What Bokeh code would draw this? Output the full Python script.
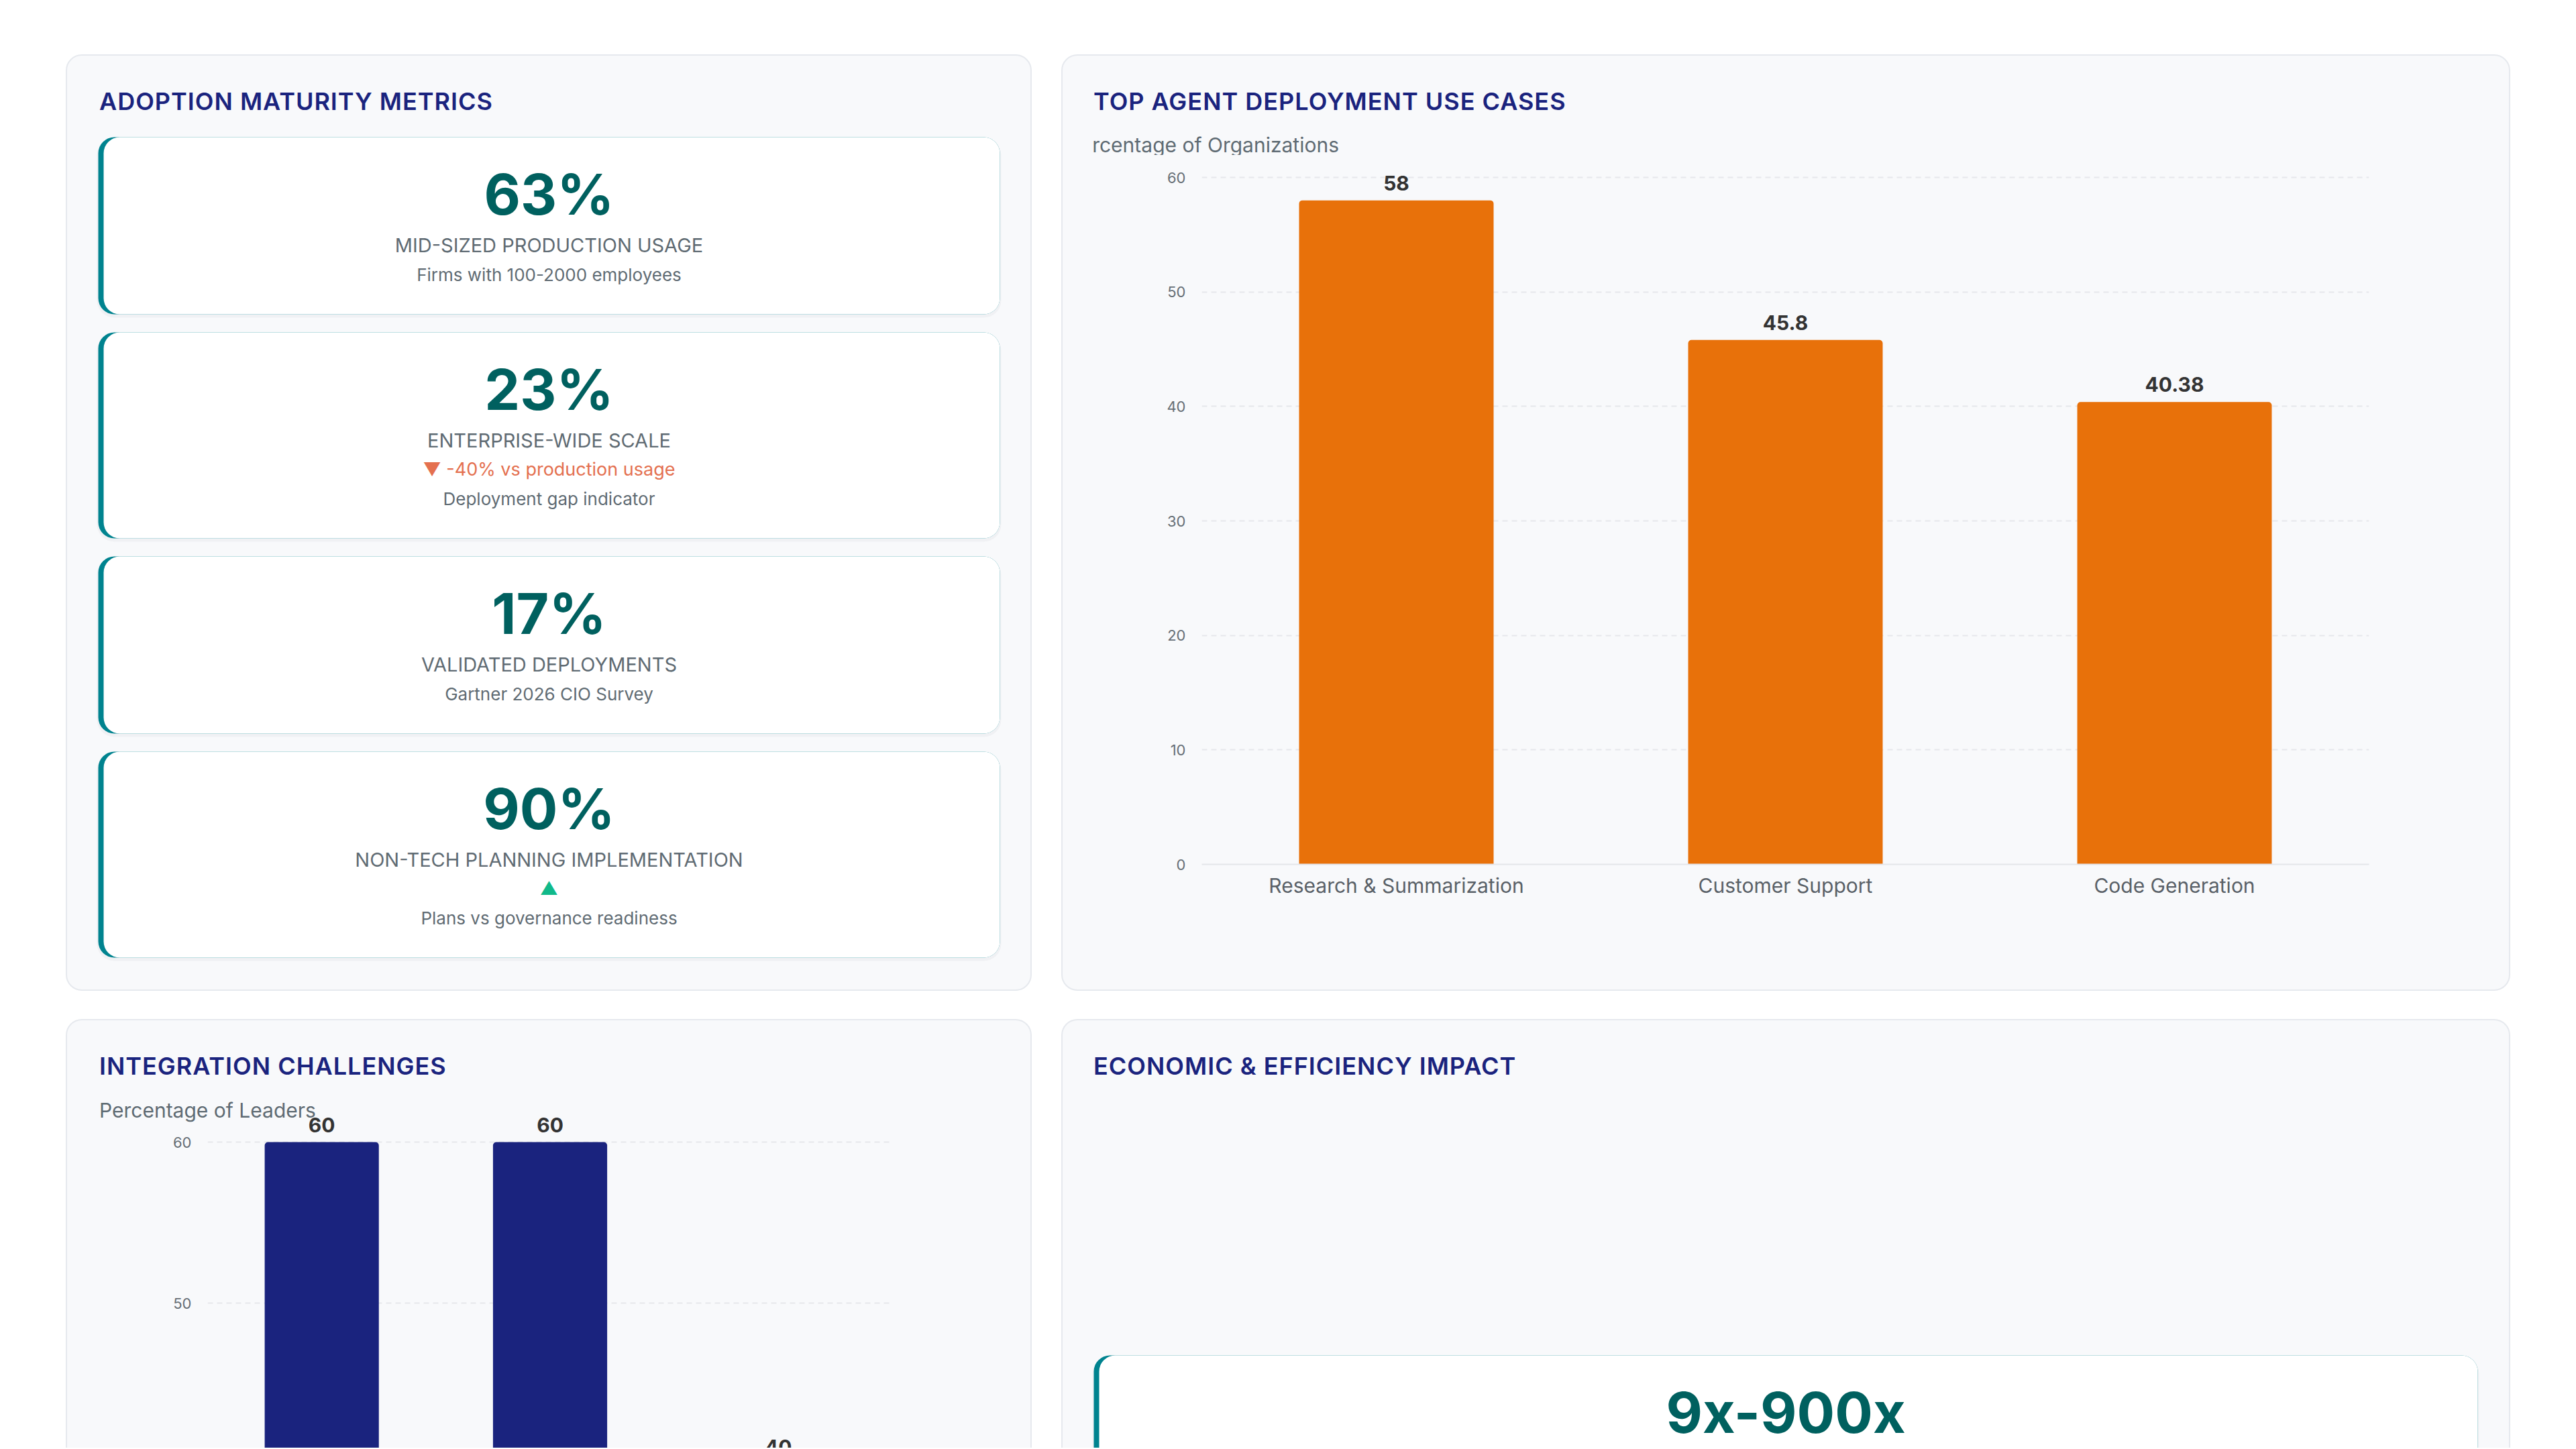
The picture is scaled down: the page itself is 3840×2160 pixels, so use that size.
from html import escape

from bokeh.core.properties import value
from bokeh.embed import file_html
from bokeh.layouts import column, row
from bokeh.models import ColumnDataSource, Div, Range1d, SingleIntervalTicker, Spacer
from bokeh.plotting import figure
from bokeh.resources import INLINE

# values
kpi_values = ["63%", "23%", "17%", "90%"]
kpi_labels = ["MID-SIZED PRODUCTION USAGE", "ENTERPRISE-WIDE SCALE",
              "VALIDATED DEPLOYMENTS", "NON-TECH PLANNING IMPLEMENTATION"]
kpi_trends = ["", "\u25bc -40% vs production usage", "", "\u25b2"]
kpi_trend_dir = ["", "down", "", "up"]
kpi_notes = ["Firms with 100-2000 employees", "Deployment gap indicator",
             "Gartner 2026 CIO Survey", "Plans vs governance readiness"]

use_cases = ["Research & Summarization", "Customer Support", "Code Generation"]
use_case_pct = [58, 45.8, 40.38]

# only the tops of these bars are on screen, the names are not
challenges = ["Legacy Integration", "Data Access", "Governance"]
challenge_pct = [60, 60, 40]

impact_values = ["9x-900x"]

FONT = value("Inter")
BG = "#f8f9fb"
EDGE = "#e6e9ee"
NAVY = "#1a237e"
TEAL = "#00838f"
TEAL_DARK = "#00605f"
GREY = "#5f6b73"
ORANGE = "#e8710a"
COLORS = {"down": "#e4704f", "up": "#10b98a", "": GREY}

PANEL_CSS = {"background-color": BG, "border": "2px solid " + EDGE, "border-radius": "24px"}
OPEN_CSS = dict(PANEL_CSS, **{"border-bottom": "none", "border-radius": "24px 24px 0 0"})

CARD_H, CARD_H_TREND, CARD_GAP = 264, 307, 27
TOP_H, BOTTOM_H = 1392, 637
HEAD = 100


def header(w, h, x, title, sub=None, sub_y=0, sub_right=None):
    html = ['<div style="position:relative;width:%dpx;height:%dpx;font-family:Inter,sans-serif">' % (w, h),
            '<div style="position:absolute;left:%dpx;top:50px;font-size:36px;line-height:1;'
            'font-weight:600;letter-spacing:1px;color:%s;white-space:nowrap">%s</div>'
            % (x, NAVY, escape(title))]
    if sub:
        width = (sub_right - x) if sub_right else w - x
        justify = "flex-end" if sub_right else "flex-start"
        clip = "hidden" if sub_right else "visible"
        html.append('<div style="position:absolute;left:%dpx;top:%dpx;width:%dpx;display:flex;'
                    'justify-content:%s;overflow:%s;font-size:30px;line-height:1;color:%s;'
                    'white-space:nowrap">%s</div>'
                    % (x, sub_y - 15, width, justify, clip, GREY, escape(sub)))
    html.append("</div>")
    return Div(text="".join(html), width=w, height=h, margin=0,
               styles={"overflow": "visible", "z-index": "1"})


def canvas(w, h):
    p = figure(width=w, height=h, x_range=Range1d(0, w), y_range=Range1d(h, 0),
               x_axis_type=None, y_axis_type=None, toolbar_location=None,
               output_backend="svg", min_border=0)
    p.outline_line_color = None
    p.background_fill_alpha = 0
    p.border_fill_alpha = 0
    return p


def cards(p, left, right, tops, bottoms):
    n = len(tops)
    p.quad(left=[left - 2] * n, right=[right + 2] * n, top=[t + 1 for t in tops],
           bottom=[b + 5 for b in bottoms], fill_color="#1f2937", fill_alpha=0.035,
           line_color=None, border_radius=26)
    p.quad(left=[left] * n, right=[right] * n, top=tops, bottom=bottoms,
           fill_color=TEAL, line_color=None, border_radius=24)
    p.quad(left=[left + 8] * n, right=[right] * n, top=tops, bottom=bottoms,
           fill_color="white", line_color=None, border_radius=24)


def card_text(p, xs, ys, texts, size, color, style="normal"):
    p.text(x=xs, y=ys, text=texts, text_font=FONT, text_font_size=size,
           text_font_style=style, text_color=color, text_align="center",
           text_baseline="middle")


def style_chart(c):
    c.outline_line_color = None
    c.background_fill_alpha = 0
    c.border_fill_alpha = 0
    c.yaxis.ticker = SingleIntervalTicker(interval=10, num_minor_ticks=0)
    c.yaxis.axis_line_color = None
    c.yaxis.major_tick_line_color = None
    c.yaxis.minor_tick_line_color = None
    c.yaxis.major_label_standoff = 18
    c.yaxis.major_label_text_font = "Inter"
    c.yaxis.major_label_text_font_size = "22px"
    c.yaxis.major_label_text_color = "#666e75"
    c.xgrid.grid_line_color = None
    c.ygrid.grid_line_color = "#e6e8ec"
    c.ygrid.grid_line_width = 2
    c.ygrid.grid_line_dash = "8 6"


def bar_labels(c, src):
    c.text(x="x", y="top", text="label", source=src, y_offset=-26, text_align="center",
           text_baseline="middle", text_font=FONT, text_font_size="30px",
           text_font_style="bold", text_color="#333333")


# ---------- adoption maturity metrics ----------
h1 = header(1436, HEAD, 48, "ADOPTION MATURITY METRICS")
p1 = canvas(1436, TOP_H - HEAD)

tops, y = [], 121 - HEAD
for t in kpi_trends:
    tops.append(y)
    y += (CARD_H_TREND if t else CARD_H) + CARD_GAP
bottoms = [t + (CARD_H_TREND if tr else CARD_H) for t, tr in zip(tops, kpi_trends)]
cards(p1, 46, 1390, tops, bottoms)

cx = (46 + 1390) / 2
xs = [cx] * len(kpi_values)
card_text(p1, xs, [t + 85 for t in tops], kpi_values, "84px", TEAL_DARK, "bold")
card_text(p1, xs, [t + 161 for t in tops], kpi_labels, "29px", GREY)
trend_i = [i for i, t in enumerate(kpi_trends) if t]
p1.text(x=[cx] * len(trend_i), y=[tops[i] + 204 for i in trend_i],
        text=[kpi_trends[i] for i in trend_i],
        text_color=[COLORS[kpi_trend_dir[i]] for i in trend_i],
        text_font=FONT, text_font_size="27px", text_align="center",
        text_baseline="middle")
card_text(p1, xs, [t + (248 if tr else 205) for t, tr in zip(tops, kpi_trends)],
          kpi_notes, "26px", GREY)

# ---------- top agent deployment use cases ----------
HEAD2 = 150
h2 = header(2156, HEAD2, 46, "TOP AGENT DEPLOYMENT USE CASES",
            "Percentage of Organizations", 133, 412)
C2_H = TOP_H - HEAD2
C2_FRAME = C2_H - 6 - 187
c2 = figure(width=2156, height=C2_H, x_range=use_cases,
            y_range=Range1d(0, 60 * C2_FRAME / (C2_FRAME - 25)),
            toolbar_location=None, output_backend="svg",
            min_border_left=207, min_border_right=209, min_border_top=6,
            min_border_bottom=187)
style_chart(c2)
c2.xaxis.axis_line_color = "#e3e6ea"
c2.xaxis.axis_line_width = 2
c2.xaxis.major_tick_line_color = None
c2.xaxis.minor_tick_line_color = None
c2.xaxis.major_label_standoff = 7
c2.xaxis.major_label_text_font = "Inter"
c2.xaxis.major_label_text_font_size = "30px"
c2.xaxis.major_label_text_color = "#5a6168"

src2 = ColumnDataSource(dict(x=use_cases, top=use_case_pct,
                             label=[f"{v:g}" for v in use_case_pct]))
c2.vbar(x="x", top="top", width=0.5, source=src2, fill_color=ORANGE,
        line_color=None, border_radius=(5, 5, 0, 0))
bar_labels(c2, src2)

# ---------- integration challenges ----------
HEAD3 = 134
h3 = header(1436, HEAD3, 48, "INTEGRATION CHALLENGES", "Percentage of Leaders", 134)
C3_H, PX_PER_UNIT, TOP_GAP = BOTTOM_H - HEAD3, 24, 47
y_end = 60 + TOP_GAP / PX_PER_UNIT
c3 = figure(width=1436, height=C3_H, x_range=challenges,
            y_range=Range1d(y_end - C3_H / PX_PER_UNIT, y_end),
            x_axis_location=None, toolbar_location=None, output_backend="svg",
            min_border_left=209, min_border_right=206, min_border_top=0,
            min_border_bottom=0)
style_chart(c3)
src3 = ColumnDataSource(dict(x=challenges, top=challenge_pct,
                             label=[f"{v:g}" for v in challenge_pct]))
c3.vbar(x="x", top="top", width=0.5, source=src3, fill_color=NAVY,
        line_color=None, border_radius=(5, 5, 0, 0))
bar_labels(c3, src3)

# ---------- economic & efficiency impact ----------
h4 = header(2156, HEAD, 46, "ECONOMIC & EFFICIENCY IMPACT")
p4 = canvas(2156, BOTTOM_H - HEAD)
cards(p4, 46, 2109, [499 - HEAD], [720])
card_text(p4, [(46 + 2109) / 2], [499 - HEAD + 85], impact_values, "84px", TEAL_DARK, "bold")

w1 = column(h1, p1, styles=PANEL_CSS)
w2 = column(h2, c2, styles=PANEL_CSS)
w3 = column(h3, c3, styles=OPEN_CSS)
w4 = column(h4, p4, styles=OPEN_CSS)

page = column(
    Spacer(height=81),
    row(Spacer(width=98), w1, Spacer(width=44), w2),
    Spacer(height=42),
    row(Spacer(width=98), w3, Spacer(width=44), w4),
)

open("out.html", "w", encoding="utf-8").write(file_html(page, INLINE))
